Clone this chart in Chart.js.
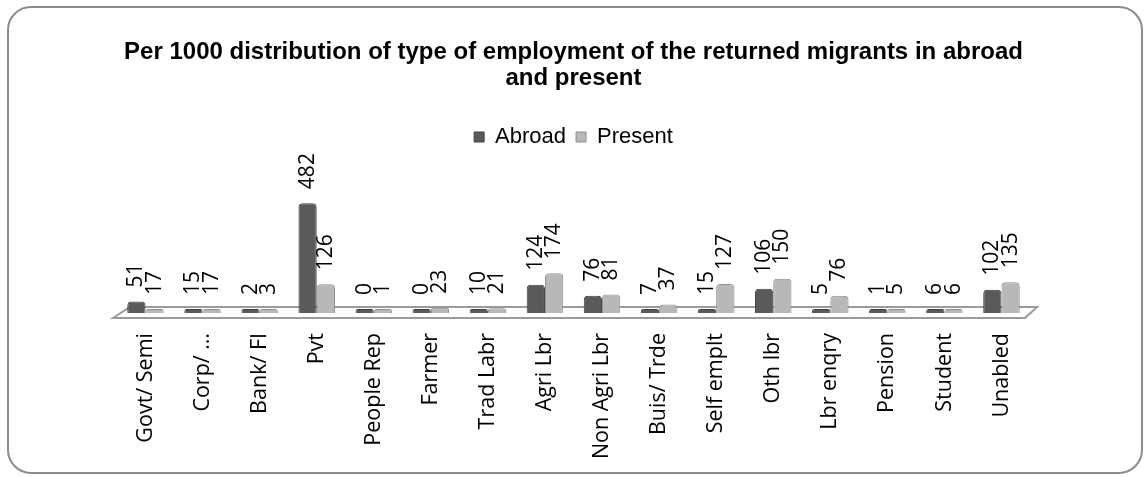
<!DOCTYPE html>
<html>
<head>
<meta charset="utf-8">
<script src="https://cdn.jsdelivr.net/npm/chart.js@4.4.1/dist/chart.umd.min.js"></script>
<style>
  html, body { margin: 0; padding: 0; background: #fff; }
  #wrap { position: relative; width: 1146px; height: 477px; }
  #frame {
    position: absolute; left: 7px; top: 6px; width: 1136px; height: 468px;
    box-sizing: border-box; border: 2px solid #8c8c8c; border-radius: 24px;
    pointer-events: none;
  }
</style>
</head>
<body>
<div id="wrap">
  <canvas id="empChart" width="1146" height="477"></canvas>
  <div id="frame"></div>
</div>
<script>
// categories and values (per 1000)
const categories = ['Govt/ Semi', 'Corp/ \u2026', 'Bank/ FI', 'Pvt', 'People Rep', 'Farmer', 'Trad Labr',
  'Agri Lbr', 'Non Agri Lbr', 'Buis/ Trde', 'Self emplt', 'Oth lbr', 'Lbr enqry', 'Pension', 'Student', 'Unabled'];
const abroad  = [51, 15, 2, 482, 0, 0, 10, 124, 76, 7, 15, 106, 5, 1, 6, 102];
const present = [17, 17, 3, 126, 1, 23, 21, 174, 81, 37, 127, 150, 76, 5, 6, 135];
const seriesNames = ['Abroad', 'Present'];

// rotated value labels above each bar
const valueLabels = {
    id: 'valueLabels',
    afterDraw(chart) {
        const ctx = chart.ctx;
        const base = chart.scales.y.bottom;
        ctx.save();
        ctx.font = '21px "Open Sans"';
        ctx.fillStyle = '#000';
        ctx.textAlign = 'left';
        ctx.textBaseline = 'middle';
        chart.data.datasets.forEach((ds, i) => {
            chart.getDatasetMeta(i).data.forEach((bar, j) => {
                // label sits above the value, not above the min-length slab
                const top = Math.min(bar.y, base - 2);
                ctx.save();
                ctx.translate(bar.x, top - 14);
                ctx.rotate(-Math.PI / 2);
                ctx.fillText(String(ds.data[j]), 0, 0);
                ctx.restore();
            });
        });
        ctx.restore();
    }
};

// flat 3d-looking floor under the bars
const floor = {
    id: 'floor',
    beforeDatasetsDraw(chart) {
        const ctx = chart.ctx;
        const x = chart.scales.x;
        const b = chart.scales.y.bottom;
        ctx.save();
        ctx.strokeStyle = '#9a9a9a';
        ctx.fillStyle = '#ffffff';
        ctx.lineWidth = 2;
        ctx.beginPath();
        ctx.moveTo(x.left - 4, b + 5);
        ctx.lineTo(x.left + 13, b - 6);
        ctx.lineTo(x.right + 7, b - 6);
        ctx.lineTo(x.right - 5, b + 5);
        ctx.closePath();
        ctx.fill();
        ctx.stroke();
        ctx.restore();
    }
};

const ctx = document.getElementById('empChart').getContext('2d');
const empChart = new Chart(ctx, {
    type: 'bar',
    data: {
        labels: categories,
        datasets: [{
            label: seriesNames[0],
            data: abroad,
            backgroundColor: '#5a5a5a',
            borderColor: '#404040',
            borderWidth: 1,
            borderRadius: { topLeft: 4, topRight: 4 },
            borderSkipped: 'bottom',
            minBarLength: 4
        }, {
            label: seriesNames[1],
            data: present,
            backgroundColor: '#b8b8b8',
            borderColor: '#8e8e8e',
            borderWidth: 1,
            borderRadius: { topLeft: 4, topRight: 4 },
            borderSkipped: 'bottom',
            minBarLength: 4
        }]
    },
    options: {
        responsive: false,
        animation: false,
        layout: { padding: { left: 117, right: 116, top: 29, bottom: 0 } },
        datasets: { bar: { categoryPercentage: 0.64, barPercentage: 1 } },
        plugins: {
            title: {
                display: true,
                text: ['Per 1000 distribution of type of employment of the returned migrants in abroad', 'and present'],
                color: '#000',
                font: { family: '"Liberation Sans", Arial, sans-serif', size: 24, weight: 'bold', lineHeight: '26px' },
                padding: { top: 10, bottom: 25 }
            },
            legend: {
                labels: {
                    color: '#000',
                    boxWidth: 10,
                    boxHeight: 10,
                    padding: 10,
                    font: { family: '"Liberation Sans", Arial, sans-serif', size: 22 }
                }
            },
            tooltip: { enabled: false }
        },
        scales: {
            x: {
                grid: { display: false, drawTicks: false },
                border: { display: false },
                ticks: {
                    color: '#000',
                    autoSkip: false,
                    maxRotation: 90,
                    minRotation: 90,
                    padding: 20,
                    font: { family: '"Open Sans", sans-serif', size: 21.5 }
                },
                afterFit(scale) { scale.height = 164; }
            },
            y: {
                display: false,
                min: 0,
                max: 680
            }
        }
    },
    plugins: [floor, valueLabels]
});
</script>
</body>
</html>
